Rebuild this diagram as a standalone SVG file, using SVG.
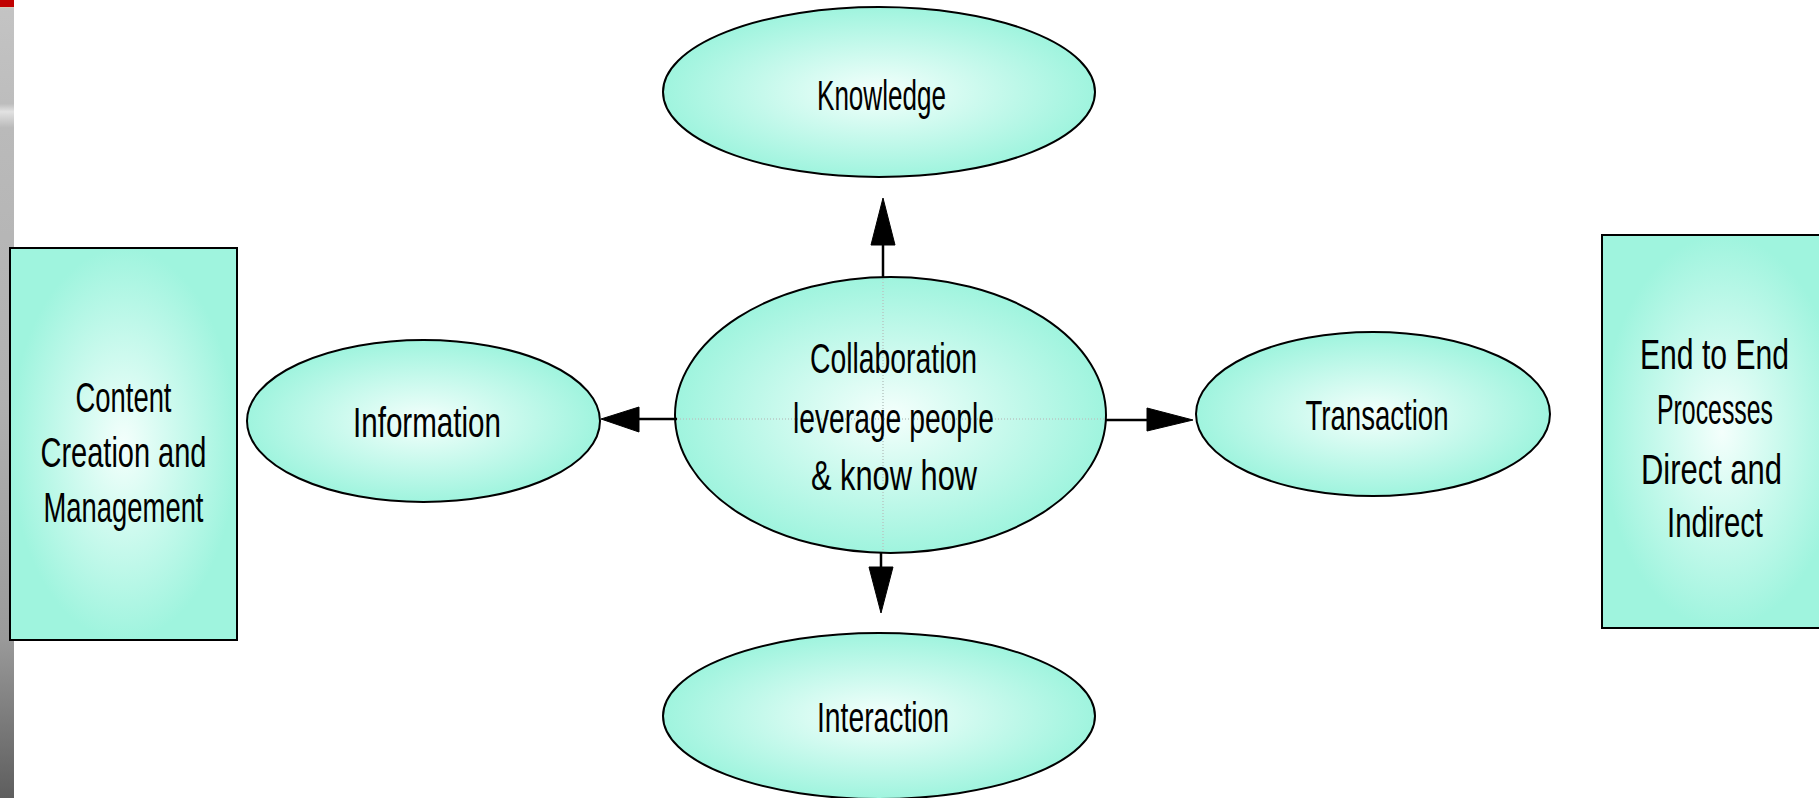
<svg xmlns="http://www.w3.org/2000/svg" width="1819" height="798" viewBox="0 0 1819 798">
  <defs>
    <radialGradient id="aqua" cx="0.5" cy="0.5" r="0.5">
      <stop offset="0" stop-color="#f4fffc"/>
      <stop offset="1" stop-color="#9ff4de"/>
    </radialGradient>
    <linearGradient id="strip" x1="0" y1="0" x2="0" y2="1">
      <stop offset="0" stop-color="#c4c4c4"/>
      <stop offset="0.13" stop-color="#bdbdbd"/>
      <stop offset="0.14" stop-color="#e2e2e2"/>
      <stop offset="0.16" stop-color="#bababa"/>
      <stop offset="0.5" stop-color="#b0b0b0"/>
      <stop offset="0.8" stop-color="#9a9a9a"/>
      <stop offset="1" stop-color="#5e5e5e"/>
    </linearGradient>
    <style>
      .shape { fill: url(#aqua); stroke: #000; stroke-width: 2; }
      .lbl { font-family: "Liberation Sans Narrow", "Liberation Sans", "DejaVu Sans Condensed", sans-serif; font-size: 42px; fill: #000; text-anchor: middle; }
      .conn { stroke: #000; stroke-width: 2.5; fill: none; }
      .head { fill: #000; stroke: #000; stroke-width: 1; }
      .guide { stroke: #b8c8c4; stroke-width: 1.5; stroke-dasharray: 1 2; fill: none; }
    </style>
  </defs>

  <rect x="0" y="0" width="1819" height="798" fill="#ffffff"/>
  <g id="side-strip">
    <rect x="0" y="0" width="14" height="798" fill="url(#strip)"/>
    <rect x="0" y="0" width="14" height="7" fill="#c00000"/>
    <rect x="0" y="7" width="14" height="1" fill="#d8c8b8"/>
  </g>

  <g id="content-box">
    <rect class="shape" x="10" y="248" width="227" height="392"/>
    <g transform="scale(0.75 1)">
      <text class="lbl" x="164.67" y="412" textLength="128" lengthAdjust="spacingAndGlyphs">Content</text>
      <text class="lbl" x="164.67" y="467" textLength="221.3" lengthAdjust="spacingAndGlyphs">Creation and</text>
      <text class="lbl" x="164.67" y="522" textLength="213.3" lengthAdjust="spacingAndGlyphs">Management</text>
    </g>
  </g>

  <g id="process-box">
    <rect class="shape" x="1602" y="235" width="240" height="393"/>
    <g transform="scale(0.75 1)">
      <text class="lbl" x="2286" y="369" textLength="198.7" lengthAdjust="spacingAndGlyphs">End to End</text>
      <text class="lbl" x="2286.67" y="424" textLength="154.7" lengthAdjust="spacingAndGlyphs">Processes</text>
      <text class="lbl" x="2282" y="484" textLength="188" lengthAdjust="spacingAndGlyphs">Direct and</text>
      <text class="lbl" x="2286.67" y="537" textLength="128" lengthAdjust="spacingAndGlyphs">Indirect</text>
    </g>
  </g>

  <g id="knowledge">
    <ellipse class="shape" cx="879" cy="92" rx="216" ry="85"/>
    <text class="lbl" transform="scale(0.75 1)" x="1175.33" y="110" textLength="172" lengthAdjust="spacingAndGlyphs">Knowledge</text>
  </g>

  <g id="information">
    <ellipse class="shape" cx="423.5" cy="421" rx="176.5" ry="81"/>
    <text class="lbl" transform="scale(0.75 1)" x="569.33" y="437" textLength="197.33" lengthAdjust="spacingAndGlyphs">Information</text>
  </g>

  <g id="transaction">
    <ellipse class="shape" cx="1373" cy="414" rx="177" ry="82"/>
    <text class="lbl" transform="scale(0.75 1)" x="1836" y="430" textLength="190.67" lengthAdjust="spacingAndGlyphs">Transaction</text>
  </g>

  <g id="interaction">
    <ellipse class="shape" cx="879" cy="716" rx="216" ry="83"/>
    <text class="lbl" transform="scale(0.75 1)" x="1177.33" y="732" textLength="176" lengthAdjust="spacingAndGlyphs">Interaction</text>
  </g>

  <g id="collaboration">
    <ellipse class="shape" cx="890.5" cy="415" rx="215.5" ry="138"/>
    <line class="guide" x1="883" y1="279" x2="883" y2="551"/>
    <line class="guide" x1="677" y1="419" x2="1104" y2="419"/>
    <g transform="scale(0.75 1)">
      <text class="lbl" x="1191.33" y="373" textLength="222.67" lengthAdjust="spacingAndGlyphs">Collaboration</text>
      <text class="lbl" x="1191.33" y="433" textLength="268" lengthAdjust="spacingAndGlyphs">leverage people</text>
      <text class="lbl" x="1192" y="490" textLength="221.33" lengthAdjust="spacingAndGlyphs">&amp; know how</text>
    </g>
  </g>

  <g id="connectors">
    <line class="conn" x1="883" y1="277" x2="883" y2="243"/>
    <polygon class="head" points="883,198 871,245 895,245"/>
    <line class="conn" x1="677" y1="419" x2="637" y2="419"/>
    <polygon class="head" points="601,419 639,407 639,432"/>
    <line class="conn" x1="1105" y1="420" x2="1149" y2="420"/>
    <polygon class="head" points="1193,420 1147,408 1147,431"/>
    <line class="conn" x1="881" y1="553" x2="881" y2="569"/>
    <polygon class="head" points="881,613 869,567 893,567"/>
  </g>
</svg>
